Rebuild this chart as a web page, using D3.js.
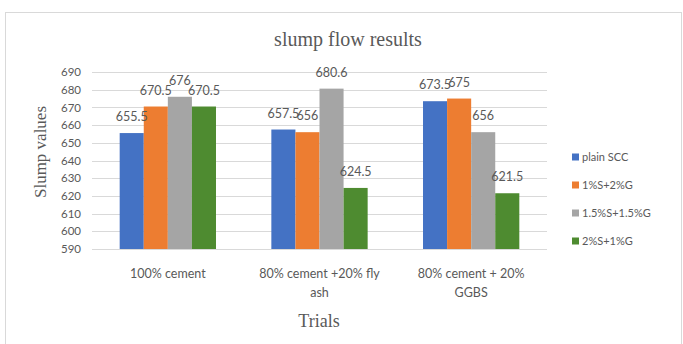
<!DOCTYPE html>
<html>
<head>
<meta charset="utf-8">
<script src="https://cdn.jsdelivr.net/npm/d3@7"></script>
<style>
  html, body { margin: 0; padding: 0; background: #fff; }
  svg { display: block; }
</style>
</head>
<body>
<svg id="chart" width="683" height="344"></svg>
<script>
// Trials (x categories), each split into two label lines
const categories = ["100% cement", "80% cement +20% fly ash", "80% cement + 20% GGBS"];
const categoryLines = [["100% cement"], ["80% cement +20% fly", "ash"], ["80% cement + 20%", "GGBS"]];

// Series: slump flow per admixture mix
const seriesNames = ["plain SCC", "1%S+2%G", "1.5%S+1.5%G", "2%S+1%G"];
const plainSCC   = [655.5, 657.5, 673.5];
const s1g2       = [670.5, 656, 675];
const s15g15     = [676, 680.6, 656];
const s2g1       = [670.5, 624.5, 621.5];
const seriesValues = [plainSCC, s1g2, s15g15, s2g1];
const colors = ["#4472C4", "#ED7D31", "#A5A5A5", "#4E8B30"];

// Y axis ticks
const yTicks = [590, 600, 610, 620, 630, 640, 650, 660, 670, 680, 690];

const svg = d3.select("#chart");
const textColor = "#595959";
const serif = "'Liberation Serif', 'DejaVu Serif', serif";
const sans = "Lato, 'Open Sans', sans-serif";

// chart border
svg.append("rect")
  .attr("x", 5.5).attr("y", 12.5)
  .attr("width", 676).attr("height", 340)
  .attr("fill", "#fff").attr("stroke", "#d9d9d9");

const plot = { left: 92, right: 547, top: 72, bottom: 249 };

const x0 = d3.scaleBand()
  .domain(categories)
  .range([plot.left, plot.right])
  .paddingInner(0.365)
  .paddingOuter(0.1825);

const x1 = d3.scaleBand()
  .domain(seriesNames)
  .range([0, x0.bandwidth()]);

const y = d3.scaleLinear()
  .domain([590, 690])
  .range([plot.bottom, plot.top]);

// gridlines
svg.append("g")
  .selectAll("line")
  .data(yTicks)
  .join("line")
  .attr("x1", plot.left).attr("x2", plot.right)
  .attr("y1", d => Math.round(y(d)) + 0.5).attr("y2", d => Math.round(y(d)) + 0.5)
  .attr("stroke", "#d9d9d9").attr("stroke-width", 1);

// y axis labels
const yAxis = d3.axisLeft(y).tickValues(yTicks).tickSize(0).tickPadding(0).tickFormat(d3.format("d"));
const yG = svg.append("g")
  .attr("transform", `translate(${plot.left - 11},0)`)
  .call(yAxis);
yG.select(".domain").remove();
yG.selectAll("text")
  .attr("fill", textColor)
  .style("font-family", sans)
  .style("font-size", "11.5px");

// bars
const groups = svg.append("g")
  .selectAll("g")
  .data(categories)
  .join("g")
  .attr("transform", d => `translate(${x0(d)},0)`);

const barData = (c, ci) => seriesNames.map((s, si) => ({ s, si, v: seriesValues[si][ci] }));

groups.selectAll("rect")
  .data((c, ci) => barData(c, ci))
  .join("rect")
  .attr("x", d => x1(d.s))
  .attr("width", x1.bandwidth())
  .attr("y", d => y(d.v))
  .attr("height", d => y(590) - y(d.v))
  .attr("fill", d => colors[d.si]);

// value labels
groups.selectAll("text")
  .data((c, ci) => barData(c, ci))
  .join("text")
  .attr("x", d => x1(d.s) + x1.bandwidth() / 2)
  .attr("y", d => y(d.v) - 12)
  .attr("text-anchor", "middle")
  .attr("fill", textColor)
  .style("font-family", sans)
  .style("font-size", "12.5px")
  .text(d => d.v);

// category labels
const catG = svg.append("g");
categories.forEach((c, ci) => {
  const t = catG.append("text")
    .attr("x", x0(c) + x0.bandwidth() / 2)
    .attr("y", 278)
    .attr("text-anchor", "middle")
    .attr("fill", textColor)
    .style("font-family", sans)
    .style("font-size", "12.5px");
  categoryLines[ci].forEach((line, li) => {
    t.append("tspan")
      .attr("x", x0(c) + x0.bandwidth() / 2)
      .attr("dy", li === 0 ? 0 : 19)
      .text(line);
  });
});

// title
svg.append("text")
  .attr("x", 348).attr("y", 46)
  .attr("text-anchor", "middle")
  .attr("fill", textColor)
  .style("font-family", serif)
  .style("font-size", "20px")
  .text("slump flow results");

// axis titles
svg.append("text")
  .attr("x", 319).attr("y", 327)
  .attr("text-anchor", "middle")
  .attr("fill", textColor)
  .style("font-family", serif)
  .style("font-size", "18px")
  .text("Trials");

svg.append("text")
  .attr("transform", "translate(46,152) rotate(-90)")
  .attr("text-anchor", "middle")
  .attr("fill", textColor)
  .style("font-family", serif)
  .style("font-size", "17px")
  .text("Slump values");

// legend
const legend = svg.append("g")
  .selectAll("g")
  .data(seriesNames)
  .join("g")
  .attr("transform", (d, i) => `translate(572,${157 + i * 28})`);
legend.append("rect")
  .attr("x", 0).attr("y", -3.5)
  .attr("width", 7).attr("height", 7)
  .attr("fill", (d, i) => colors[i]);
legend.append("text")
  .attr("x", 10).attr("y", 4)
  .attr("fill", textColor)
  .style("font-family", sans)
  .style("font-size", "11px")
  .text(d => d);
</script>
</body>
</html>
